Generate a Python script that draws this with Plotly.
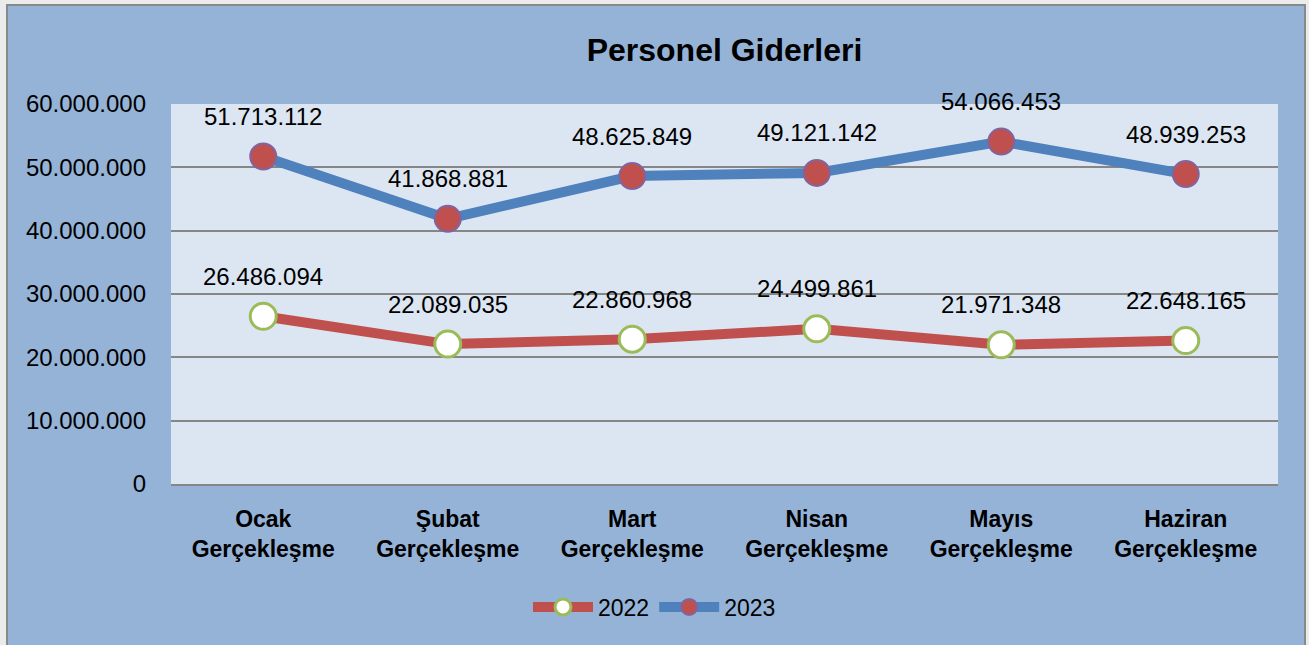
import plotly.graph_objects as go

categories = ["Ocak<br>Gerçekleşme", "Şubat<br>Gerçekleşme", "Mart<br>Gerçekleşme",
              "Nisan<br>Gerçekleşme", "Mayıs<br>Gerçekleşme", "Haziran<br>Gerçekleşme"]
values_2022 = [26486094, 22089035, 22860968, 24499861, 21971348, 22648165]
values_2023 = [51713112, 41868881, 48625849, 49121142, 54066453, 48939253]
y_ticks = [0, 10000000, 20000000, 30000000, 40000000, 50000000, 60000000]

FONT = "Liberation Sans"

fig = go.Figure()
fig.add_trace(go.Scatter(
    x=categories, y=values_2022, name="2022", mode="lines+markers",
    line=dict(color="#c0504d", width=10),
    marker=dict(size=26, color="white", line=dict(color="#9bbb59", width=3)),
))
fig.add_trace(go.Scatter(
    x=categories, y=values_2023, name="2023", mode="lines+markers",
    line=dict(color="#4f81bd", width=10),
    marker=dict(size=26, color="#c0504d", line=dict(color="#8064a2", width=2)),
))

annotations = []
for vals in (values_2022, values_2023):
    for c, v in zip(categories, vals):
        annotations.append(dict(
            x=c, y=v, xref="x", yref="y", text=f"{v:,}".replace(",", "."),
            showarrow=False, yshift=40, font=dict(family=FONT, size=24, color="black")))

L, R, T, B = 171, 31, 104, 161
W, H = 1309, 645
pw, ph = W - L - R, H - T - B

def px(x):
    return (x - L) / pw

def py(y):
    return (H - B - y) / ph

shapes = [
    dict(type="rect", xref="paper", yref="paper", layer="below",
         x0=px(7), x1=px(1305), y0=py(660), y1=py(5),
         fillcolor="#95b3d7", line=dict(color="#898989", width=2)),
    dict(type="rect", xref="paper", yref="paper", layer="below",
         x0=0, x1=1, y0=0, y1=1, fillcolor="#dce6f2", line=dict(width=0)),
]

fig.update_layout(
    width=W, height=H,
    margin=dict(l=L, r=R, t=T, b=B),
    paper_bgcolor="#ebebeb",
    plot_bgcolor="rgba(0,0,0,0)",
    separators=",.",
    title=dict(text="<b>Personel Giderleri</b>", x=0.5, xref="paper", xanchor="center",
               y=(H - 50) / H, yanchor="middle",
               font=dict(family=FONT, size=32, color="black")),
    font=dict(family=FONT, color="black"),
    showlegend=True,
    legend=dict(orientation="h", x=0.5, xref="container", xanchor="center",
                y=(H - 607) / H, yref="container", yanchor="middle",
                font=dict(family=FONT, size=23, color="black"),
                bgcolor="rgba(0,0,0,0)", itemwidth=60),
    annotations=annotations,
    shapes=shapes,
    xaxis=dict(range=[-0.5, 5.5], showgrid=False, showline=True, linecolor="#868686",
               linewidth=1.5, ticks="",
               tickfont=dict(family=FONT, size=23, color="black", weight="bold"),
               ticklabelstandoff=14),
    yaxis=dict(range=[0, 60000000], tickvals=y_ticks, tickformat=",.0f",
               showgrid=True, gridcolor="#868686", gridwidth=1.5,
               zeroline=False, showline=False, ticks="",
               tickfont=dict(family=FONT, size=24, color="black"),
               ticklabelstandoff=24),
)

fig.write_html("out.html", config={"displayModeBar": False},
               post_script="document.body.style.margin='0';document.body.style.overflow='hidden';")
